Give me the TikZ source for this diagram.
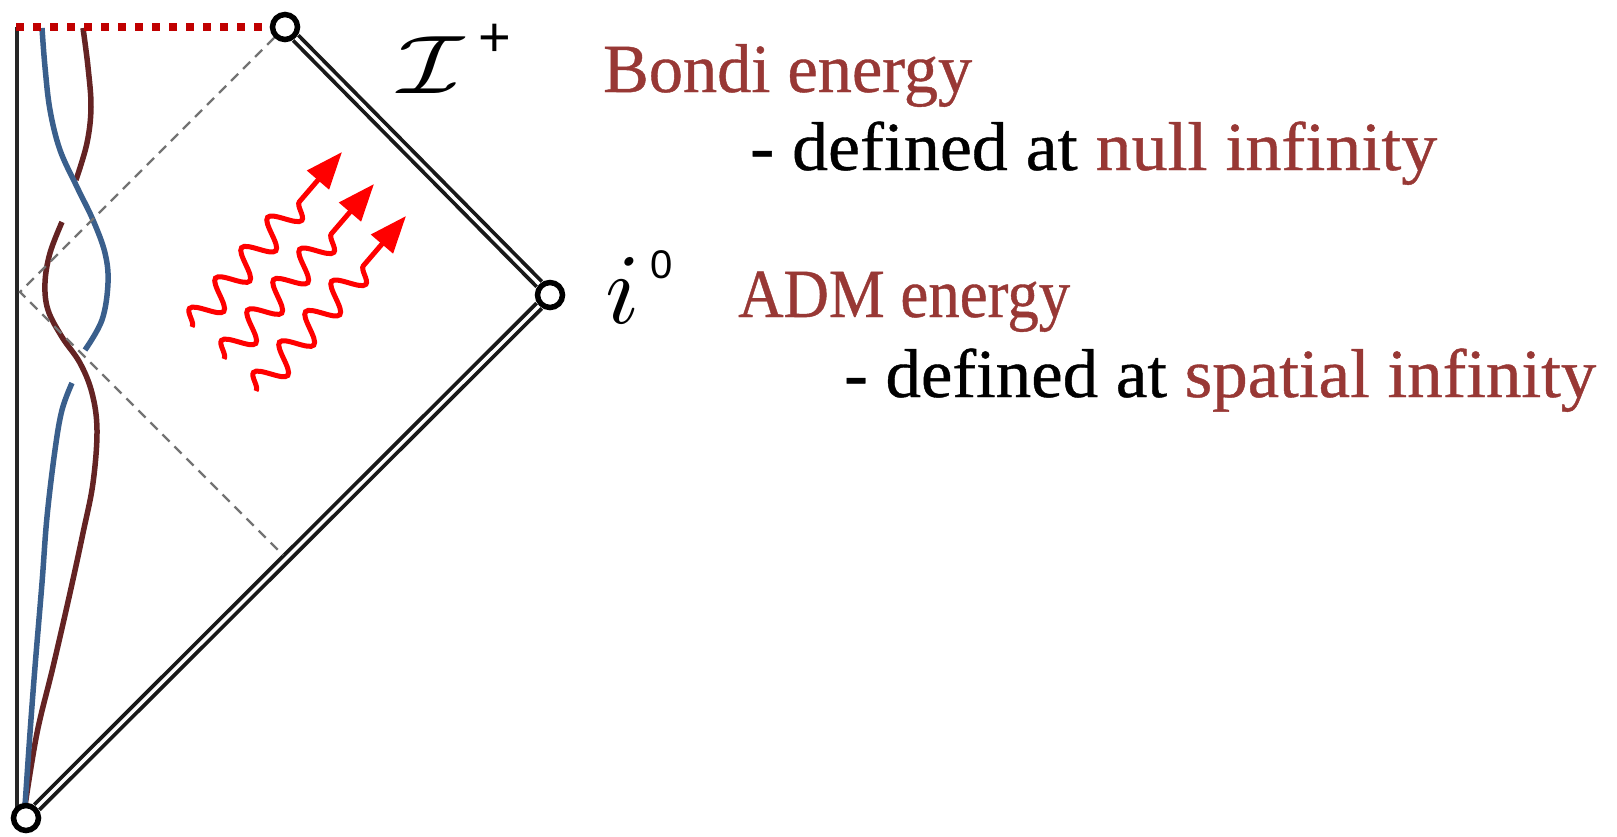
\documentclass[tikz,border=0pt]{standalone}
\usepackage[no-math]{fontspec}
\setmainfont{Liberation Serif}
\newfontfamily\txtfont[FakeBold=0.6]{Liberation Serif}
\newfontfamily\sansf{Liberation Sans}
\usetikzlibrary{arrows.meta,decorations.pathmorphing}
\definecolor{txtred}{RGB}{152,56,53}
\definecolor{curveblue}{RGB}{58,95,140}
\definecolor{curvebrown}{RGB}{100,35,35}
\definecolor{dotred}{RGB}{192,0,0}
\newcommand\xfit[2]{\sbox0{#2}\pgfmathsetmacro\xfitr{#1/\the\wd0}\scalebox{\xfitr}[1]{\usebox0}}
\begin{document}
\begin{tikzpicture}[x=1pt,y=-1pt,
  vtx/.style={circle,draw=black,line width=5.5pt,fill=white,minimum size=25pt,inner sep=0pt},
  dbl/.style={draw=black!90,line width=3.8pt,double=white,double distance=3.4pt},
  reddot/.style={draw=dotred,line width=8pt,dash pattern=on 8pt off 9pt},
  greydash/.style={draw=black!55,line width=2.4pt,dash pattern=on 10pt off 7pt},
  wl/.style={line width=5.5pt,line cap=butt},
  wave/.style={draw=red,line width=5pt,decorate,
     decoration={snake,amplitude=14pt,segment length=40pt,post length=46pt},
     -{Triangle[length=37pt,width=28pt]}},
  txt/.style={anchor=base west,inner sep=0pt,font=\txtfont\fontsize{69}{80}\selectfont},
]
\useasboundingbox (0,0) rectangle (1617,836);

% left vertical line
\coordinate (lt) at (17,27);
\coordinate (lb) at (17,812);
\draw[draw=black!85,line width=4.5pt] (lt) -- (lb);

% world lines
\draw[wl,curvebrown] plot[smooth,tension=0.6] coordinates {(83,28) (88,67) (91,107) (87,143) (76,180)};
\draw[wl,curvebrown] plot[smooth,tension=0.6] coordinates {(62,222) (50,253) (45,283) (48,310) (62,337) (80,363) (92,393) (97,430) (93,483) (83,533) (70,593) (53,667) (37,733) (25,806)};
\draw[wl,curveblue] plot[smooth,tension=0.6] coordinates {(42,28) (45,67) (50,110) (60,150) (77,187) (93,220) (105,253) (108,283) (102,320) (85,350)};
\draw[wl,curveblue] plot[smooth,tension=0.6] coordinates {(72,383) (62,410) (55,450) (47,517) (42,583) (35,667) (30,733) (25,806)};

% vertices
\node[vtx] (bot) at (26,818) {};
\node[vtx] (i0) at (550,295) {};
\node[vtx] (top) at (285,27) {};

% boundaries
\draw[dbl] (bot) -- (i0);
\draw[dbl] (i0) -- (top);
\coordinate (tl) at (16,27);
\draw[reddot] (tl) -- (top);

% light cone dashed
\coordinate (o) at (20,292);
\coordinate (pn) at (283,555);
\draw[greydash] (top) -- (o) -- (pn);

% radiation
\coordinate (w1s) at (192,327); \coordinate (w1e) at (342,152);
\coordinate (w2s) at (224,359); \coordinate (w2e) at (374,184);
\coordinate (w3s) at (256,391); \coordinate (w3e) at (406,216);
\draw[wave] (w1s) -- (w1e);
\draw[wave] (w2s) -- (w2e);
\draw[wave] (w3s) -- (w3e);

% labels
\node[anchor=base west,inner sep=0pt] (scri) at (398,93) {\scalebox{10.6}[8.3]{$\mathcal{I}$}};
\node[anchor=base west,inner sep=0pt,font=\sansf\fontsize{56}{60}\selectfont] (plus) at (478,56) {+};
\node[anchor=base west,inner sep=0pt] (ivar) at (605,323) {\scalebox{10}{$i$}};
\node[anchor=base west,inner sep=0pt,font=\sansf\fontsize{40}{44}\selectfont] (zero) at (650,278) {0};

\node[txt] (bondi) at (603,92) {\xfit{369}{\textcolor{txtred}{Bondi energy}}};
\node[txt] (nulltxt) at (750,170) {\xfit{687}{- defined at \textcolor{txtred}{null infinity}}};
\node[txt] (adm) at (738,317) {\xfit{332}{\textcolor{txtred}{ADM energy}}};
\node[txt] (spattxt) at (844,397) {\xfit{752}{- defined at \textcolor{txtred}{spatial infinity}}};
\end{tikzpicture}
\end{document}
